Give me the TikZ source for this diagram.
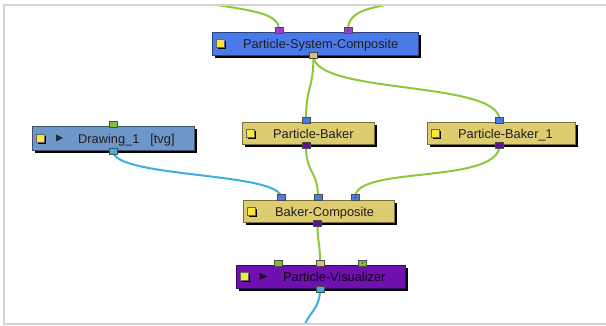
\documentclass[tikz,border=0pt]{standalone}
\usepackage{fontspec}
\setmainfont{Liberation Sans}
\usetikzlibrary{shadows}
\pgfdeclarelayer{bg}
\pgfsetlayers{bg,main}
\definecolor{pscblue}{RGB}{74,122,232}
\definecolor{drawblue}{RGB}{110,150,200}
\definecolor{bakertan}{RGB}{222,204,112}
\definecolor{vispurple}{RGB}{112,16,176}
\definecolor{wiregreen}{RGB}{140,200,60}
\definecolor{wirecyan}{RGB}{60,175,225}
\definecolor{portpurple}{RGB}{165,60,210}
\definecolor{portblue}{RGB}{74,122,232}
\definecolor{portdark}{RGB}{96,16,160}
\definecolor{porttan}{RGB}{216,192,112}
\definecolor{portgreen}{RGB}{130,190,50}
\definecolor{portcyan}{RGB}{64,176,224}
\definecolor{framegray}{RGB}{211,211,211}
\definecolor{iconyellow}{RGB}{250,230,60}
\begin{document}
\begin{tikzpicture}[x=1pt,y=-1pt,
  modbox/.style={rectangle, draw=#1!55!black, fill=#1, line width=0.7pt, inner sep=0,
    drop shadow={shadow xshift=3pt, shadow yshift=-3pt, opacity=1, fill=black}},
  port/.style={rectangle, draw=black!70, fill=#1, line width=0.5pt, minimum width=8, minimum height=6, inner sep=0},
  dotport/.style={port=#1, path picture={\fill[black!75] (path picture bounding box.center) circle (0.9pt);}},
  icon/.style={rectangle, draw=black!60, fill=iconyellow, minimum size=8, inner sep=0, line width=0.4pt,
    drop shadow={shadow xshift=1.6pt, shadow yshift=-1.6pt, opacity=1, fill=black}},
  lbl/.style={anchor=base west, inner sep=0, font=\fontsize{12.8pt}{15pt}\selectfont, text=black!88},
  wire/.style={line width=2pt, wiregreen},
  cwire/.style={line width=2pt, wirecyan},
  frame/.style={line width=2pt, framegray}
]
\useasboundingbox (0,0) rectangle (606,326);

% modules
\node[modbox=pscblue, minimum width=206, minimum height=23] (psc) at (315,43.5) {};
\node[icon] (psc-icon) at (220,43.5) {};
\node[lbl] (psc-text) at (243,49) {Particle-System-Composite};
\node[port=portpurple] (psc-in1) at (279,30) {};
\node[dotport=portpurple] (psc-in2) at (348,30) {};
\node[port=porttan] (psc-out) at (313.5,55.5) {};

\node[modbox=drawblue, minimum width=162, minimum height=24] (draw) at (113,138) {};
\node[icon] (draw-icon) at (40,138) {};
\fill[black!30!drawblue!40!black] (56,134.5) -- (63,138) -- (56,141.5) -- cycle;
\node[lbl] (draw-text) at (78,143.5) {Drawing\_1\hspace{11pt}[tvg]};
\node[port=portgreen] (draw-in) at (113,124) {};
\node[port=portcyan] (draw-out) at (113,151) {};

\node[modbox=bakertan, minimum width=132, minimum height=22] (pb) at (308,133) {};
\node[icon] (pb-icon) at (250,133) {};
\node[lbl] (pb-text) at (273,138.5) {Particle-Baker};
\node[port=portblue] (pb-in) at (306,120) {};
\node[port=portdark] (pb-out) at (306,145) {};

\node[modbox=bakertan, minimum width=148, minimum height=22] (pb1) at (501,133) {};
\node[icon] (pb1-icon) at (435,133) {};
\node[lbl] (pb1-text) at (458,138.5) {Particle-Baker\_1};
\node[port=portblue] (pb1-in) at (499.5,120) {};
\node[port=portdark] (pb1-out) at (499.5,145) {};

\node[modbox=bakertan, minimum width=151, minimum height=22] (bc) at (318.5,211) {};
\node[icon] (bc-icon) at (251.5,211) {};
\node[lbl] (bc-text) at (275,216.5) {Baker-Composite};
\node[port=portblue] (bc-in1) at (281,197.5) {};
\node[port=portblue] (bc-in2) at (318,197.5) {};
\node[dotport=portblue] (bc-in3) at (355,197.5) {};
\node[port=portdark] (bc-out) at (317.5,223) {};

\node[modbox=vispurple, minimum width=169, minimum height=23] (pv) at (320.5,276.5) {};
\node[icon] (pv-icon) at (244,276.5) {};
\fill[black!75!vispurple] (259.5,273) -- (267,276.5) -- (259.5,280) -- cycle;
\node[lbl, text=black!90!vispurple] (pv-text) at (283,282) {Particle-Visualizer};
\node[port=portgreen] (pv-in1) at (278,263) {};
\node[port=porttan] (pv-in2) at (320,263) {};
\node[dotport=portgreen] (pv-in3) at (362.5,263) {};
\node[port=portcyan] (pv-out) at (320,289) {};

\coordinate (top-a) at (217,5);
\coordinate (top-b) at (385,5);
\coordinate (bottom-a) at (305,324);

\begin{pgfonlayer}{bg}
\draw[wire] (top-a) .. controls (255,11) and (279,14) .. (psc-in1.center);
\draw[wire] (top-b) .. controls (360,10) and (348,15) .. (psc-in2.center);
\draw[wire] (psc-out.center) .. controls (313.5,90) and (306,85) .. (pb-in.center);
\draw[wire] (psc-out.center) .. controls (313.5,95) and (499.5,80) .. (pb1-in.center);
\draw[wire] (pb-out.center) .. controls (306,175) and (318,170) .. (bc-in2.center);
\draw[wire] (pb1-out.center) .. controls (499.5,185) and (355,165) .. (bc-in3.center);
\draw[cwire] (draw-out.center) .. controls (113,178) and (281,172) .. (bc-in1.center);
\draw[wire] (bc-out.center) .. controls (317.5,245) and (320,240) .. (pv-in2.center);
\draw[cwire] (pv-out.center) .. controls (320,308) and (310,312) .. (bottom-a);
\end{pgfonlayer}

\draw[frame] (606,4.8) -- (3.7,4.8) -- (3.7,324.3) -- (606,324.3);
\end{tikzpicture}
\end{document}
